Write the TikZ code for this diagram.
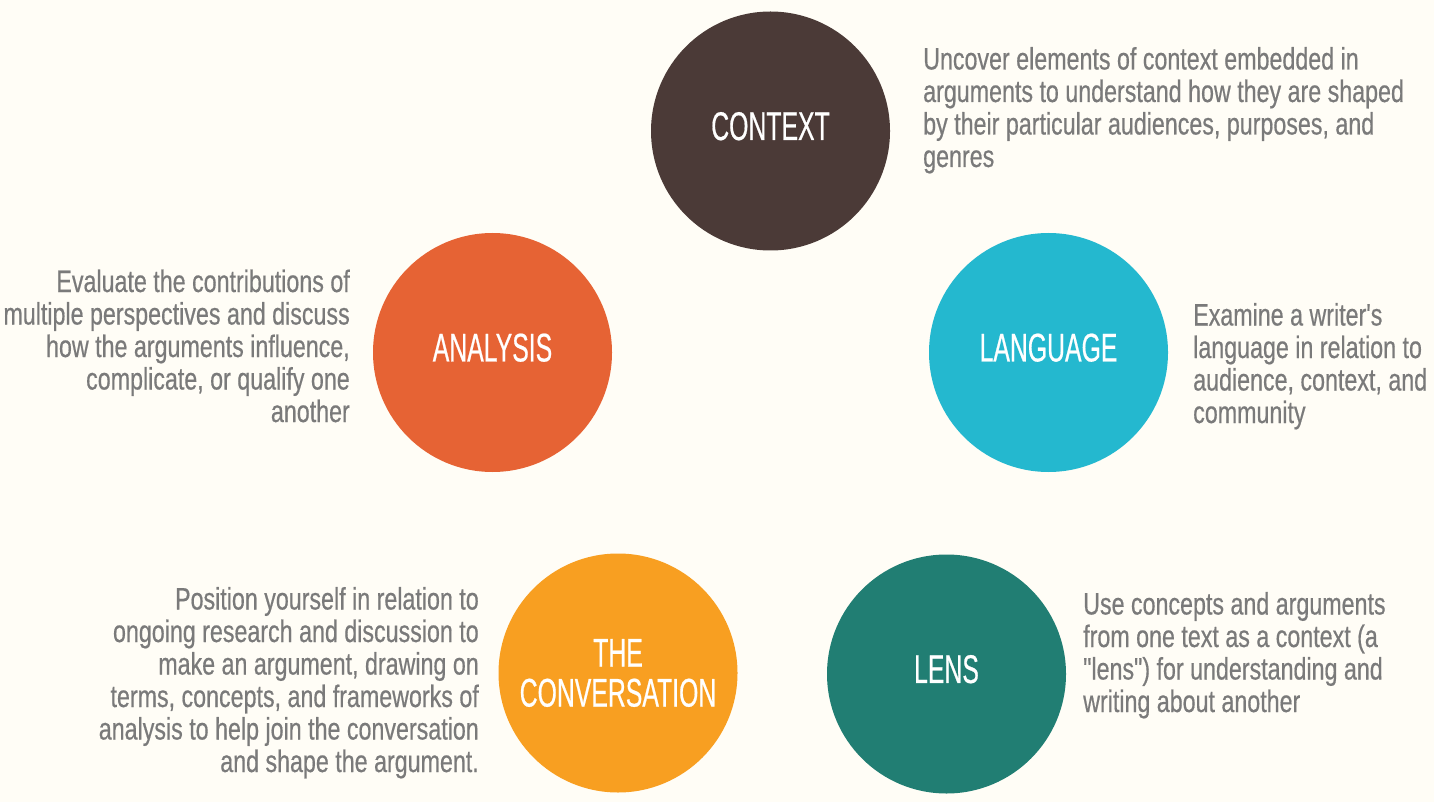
\documentclass[tikz,border=0pt]{standalone}
\usepackage{fontspec}
\newfontfamily\descfont[FakeStretch=0.75,FakeBold=0.5]{Liberation Sans}
\newfontfamily\labfont[FakeStretch=0.62,FakeBold=0.5]{Liberation Sans}
\definecolor{bgc}{HTML}{FFFDF6}
\definecolor{ccontext}{HTML}{4B3A37}
\definecolor{canalysis}{HTML}{E66334}
\definecolor{clanguage}{HTML}{24B8CF}
\definecolor{cconv}{HTML}{F89F21}
\definecolor{clens}{HTML}{217E73}
\definecolor{cdesc}{HTML}{7A7A7A}
\tikzset{
  bubble/.style={circle, fill=#1, draw=none, minimum size=239pt, inner sep=0pt,
    text=white, font={\labfont\fontsize{40}{40}\selectfont}, align=center},
  desc/.style={text=cdesc, inner sep=0pt, font={\descfont\fontsize{31}{32.5}\selectfont}},
}
\begin{document}
\begin{tikzpicture}[x=1pt,y=-1pt]
\fill[bgc] (0,0) rectangle (1434,802);
\useasboundingbox (0,0) rectangle (1434,802);
\node[bubble=ccontext, text depth=10pt] (context) at (770.5,131) {CONTEXT};
\node[bubble=canalysis, text depth=10pt] (analysis) at (492.5,352.5) {ANALYSIS};
\node[bubble=clanguage, text depth=10pt] (language) at (1048.5,352.5) {LANGUAGE};
\node[bubble=cconv] (conv) at (618,673) {THE\\CONVERSATION};
\node[bubble=clens, text depth=10pt] (lens) at (946.5,674) {LENS};

\node[desc, anchor=base west, align=left] (dcontext) at (923,167)
  {Uncover elements of context embedded in\\arguments to understand how they are shaped\\by their particular audiences, purposes, and\\genres};
\node[desc, anchor=base east, align=right] (danalysis) at (350,422)
  {Evaluate the contributions of\\multiple perspectives and discuss\\how the arguments influence,\\complicate, or qualify one\\another};
\node[desc, anchor=base west, align=left] (dlanguage) at (1193,423)
  {Examine a writer's\\language in relation to\\audience, context, and\\community};
\node[desc, anchor=base east, align=right] (dconv) at (479,772)
  {Position yourself in relation to\\ongoing research and discussion to\\make an argument, drawing on\\terms, concepts, and frameworks of\\analysis to help join the conversation\\and shape the argument.};
\node[desc, anchor=base west, align=left] (dlens) at (1083,712)
  {Use concepts and arguments\\from one text as a context (a\\"lens") for understanding and\\writing about another};
\end{tikzpicture}
\end{document}
